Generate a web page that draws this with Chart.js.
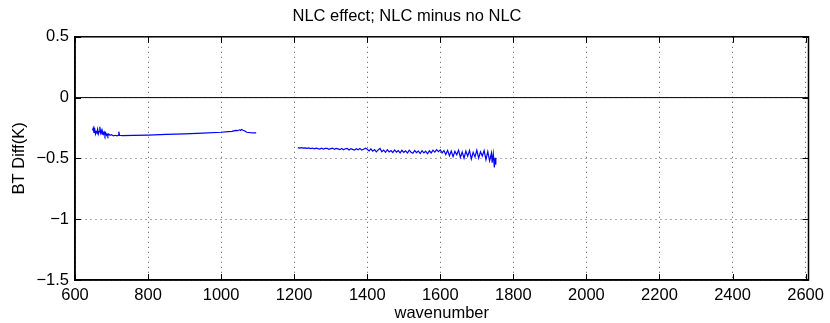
<!DOCTYPE html>
<html>
<head>
<meta charset="utf-8">
<script src="https://cdn.jsdelivr.net/npm/chart.js@4"></script>
<style>
  html, body { margin: 0; padding: 0; background: #fff; }
  #wrap { width: 830px; height: 323px; }
</style>
</head>
<body>
<div id="wrap"><canvas id="nlc" width="830" height="323"></canvas></div>
<script>
/* NLC effect plot */

const xLimits = [600, 2608];
const yLimits = [-1.5, 0.5];
const xTicks = [600, 800, 1000, 1200, 1400, 1600, 1800, 2000, 2200, 2400, 2600];
const yTicks = [-1.5, -1, -0.5, 0, 0.5];

// band 1 (LW)
const wn1 = [648, 650, 652, 654, 656, 658, 660, 662, 664, 666, 668, 670, 672, 674, 676, 678, 680, 682, 684, 686,
  688, 690, 692, 696, 700, 705, 710, 715, 718, 720, 722, 730, 760, 800, 850, 900, 950, 1000, 1020, 1030, 1040,
  1045, 1050, 1053, 1056, 1060, 1065, 1070, 1080, 1090, 1096];
const bt1 = [-0.27, -0.25, -0.29, -0.26, -0.30, -0.28, -0.29, -0.26, -0.30, -0.28, -0.24, -0.29, -0.27, -0.30,
  -0.28, -0.30, -0.285, -0.31, -0.29, -0.31, -0.30, -0.315, -0.30, -0.31, -0.305, -0.315, -0.31, -0.315, -0.31,
  -0.28, -0.31, -0.312, -0.31, -0.308, -0.303, -0.298, -0.292, -0.285, -0.28, -0.278, -0.27, -0.272, -0.265,
  -0.27, -0.262, -0.268, -0.275, -0.285, -0.288, -0.29, -0.29];

// band 2 (MW)
const wn2 = [1210, 1215, 1220, 1225, 1230, 1235, 1240, 1245, 1250, 1255, 1260, 1265, 1270, 1275, 1280, 1285,
  1290, 1295, 1300, 1305, 1310, 1315, 1320, 1325, 1330, 1335, 1340, 1345, 1350, 1355, 1360, 1365, 1370, 1375,
  1380, 1385, 1390, 1395, 1400, 1405, 1410, 1415, 1420, 1425, 1430, 1435, 1440, 1445, 1450, 1455, 1460, 1465,
  1470, 1475, 1480, 1485, 1490, 1495, 1500, 1505, 1510, 1515, 1520, 1525, 1530, 1535, 1540, 1545, 1550, 1555,
  1560, 1565, 1570, 1575, 1580, 1585, 1590, 1595, 1600, 1605, 1610, 1615, 1620, 1625, 1630, 1635, 1640, 1645,
  1650, 1655, 1660, 1665, 1670, 1675, 1680, 1685, 1690, 1695, 1700, 1705, 1710, 1715, 1720, 1725, 1730, 1735,
  1740, 1742, 1745, 1748, 1750, 1752];
const bt2 = [-0.412, -0.415, -0.411, -0.416, -0.413, -0.418, -0.414, -0.419, -0.415, -0.421, -0.416, -0.420,
  -0.423, -0.416, -0.424, -0.418, -0.417, -0.425, -0.420, -0.415, -0.426, -0.418, -0.422, -0.428, -0.419,
  -0.429, -0.421, -0.417, -0.430, -0.420, -0.426, -0.432, -0.421, -0.429, -0.418, -0.432, -0.424, -0.416,
  -0.425, -0.438, -0.422, -0.440, -0.428, -0.446, -0.430, -0.418, -0.445, -0.432, -0.450, -0.428, -0.447,
  -0.435, -0.452, -0.430, -0.448, -0.436, -0.455, -0.433, -0.450, -0.438, -0.456, -0.432, -0.449, -0.458,
  -0.435, -0.452, -0.440, -0.460, -0.437, -0.455, -0.441, -0.462, -0.438, -0.455, -0.432, -0.448, -0.428,
  -0.445, -0.430, -0.455, -0.436, -0.468, -0.434, -0.478, -0.440, -0.485, -0.442, -0.470, -0.432, -0.492,
  -0.448, -0.498, -0.440, -0.482, -0.436, -0.505, -0.450, -0.488, -0.432, -0.498, -0.445, -0.480, -0.436,
  -0.510, -0.444, -0.520, -0.455, -0.535, -0.462, -0.575, -0.495, -0.550];

const FONT = "Helvetica, 'Liberation Sans', Arial, sans-serif";

const pts = (xs, ys) => xs.map((x, i) => ({ x: x, y: ys[i] }));
const fmt = v => (v < 0 ? '\u2212' + Math.abs(v) : String(v));

// full box + inward tick marks, like matlab axes
const boxPlugin = {
  id: 'box',
  afterDraw(chart) {
    const { ctx, chartArea: a, scales } = chart;
    ctx.save();
    ctx.strokeStyle = '#000';
    ctx.lineWidth = 1;
    ctx.beginPath();
    xTicks.forEach(t => {
      const px = Math.round(scales.x.getPixelForValue(t)) + 0.5;
      ctx.moveTo(px, a.bottom); ctx.lineTo(px, a.bottom - 6);
      ctx.moveTo(px, a.top); ctx.lineTo(px, a.top + 6);
    });
    yTicks.forEach(t => {
      const py = Math.round(scales.y.getPixelForValue(t)) + 0.5;
      ctx.moveTo(a.left, py); ctx.lineTo(a.left + 6, py);
      ctx.moveTo(a.right, py); ctx.lineTo(a.right - 6, py);
    });
    ctx.stroke();
    ctx.lineWidth = 1.5;
    ctx.strokeRect(a.left, a.top, a.right - a.left, a.bottom - a.top);
    ctx.restore();
  }
};

new Chart(document.getElementById('nlc').getContext('2d'), {
  type: 'scatter',
  data: {
    datasets: [
      { data: pts(xLimits, [0, 0]), borderColor: '#000', borderWidth: 1 },
      { data: pts(wn1, bt1), borderColor: '#0000ff', borderWidth: 1.2 },
      { data: pts(wn2, bt2), borderColor: '#0000ff', borderWidth: 1.2 },
    ].map(d => Object.assign(d, { showLine: true, pointRadius: 0, fill: false, tension: 0 }))
  },
  options: {
    responsive: false,
    animation: false,
    layout: { padding: { top: 0, right: 16, left: 0, bottom: 0 } },
    plugins: {
      legend: { display: false },
      tooltip: { enabled: false },
      title: {
        display: true,
        text: 'NLC effect; NLC minus no NLC',
        color: '#000',
        font: { family: FONT, size: 16.5, weight: 'normal' },
        padding: { top: 7, bottom: 10 }
      }
    },
    scales: {
      x: {
        type: 'linear',
        min: xLimits[0], max: xLimits[1],
        afterBuildTicks: s => { s.ticks = xTicks.map(v => ({ value: v })); },
        afterFit: s => { s.height = 43; },
        grid: { color: '#555', lineWidth: 1, drawTicks: false },
        border: { color: '#000', width: 1.5, dash: [1, 4] },
        ticks: { color: '#000', padding: 6, maxRotation: 0, autoSkip: false,
          font: { family: FONT, size: 16.5 }, callback: v => fmt(v) },
        title: { display: true, text: 'wavenumber', color: '#000',
          font: { family: FONT, size: 16.5 }, padding: { top: 0, bottom: 0 } }
      },
      y: {
        type: 'linear',
        min: yLimits[0], max: yLimits[1],
        afterBuildTicks: s => { s.ticks = yTicks.map(v => ({ value: v })); },
        afterFit: s => { s.width = 75; },
        grid: { color: '#555', lineWidth: 1, drawTicks: false },
        border: { color: '#000', width: 1.5, dash: [1, 4] },
        ticks: { color: '#000', padding: 6, font: { family: FONT, size: 16.5 }, callback: v => fmt(v) },
        title: { display: true, text: 'BT Diff(K)', color: '#000',
          font: { family: FONT, size: 16.5 }, padding: { top: 10, bottom: 0 } }
      }
    }
  },
  plugins: [boxPlugin]
});
</script>
</body>
</html>
